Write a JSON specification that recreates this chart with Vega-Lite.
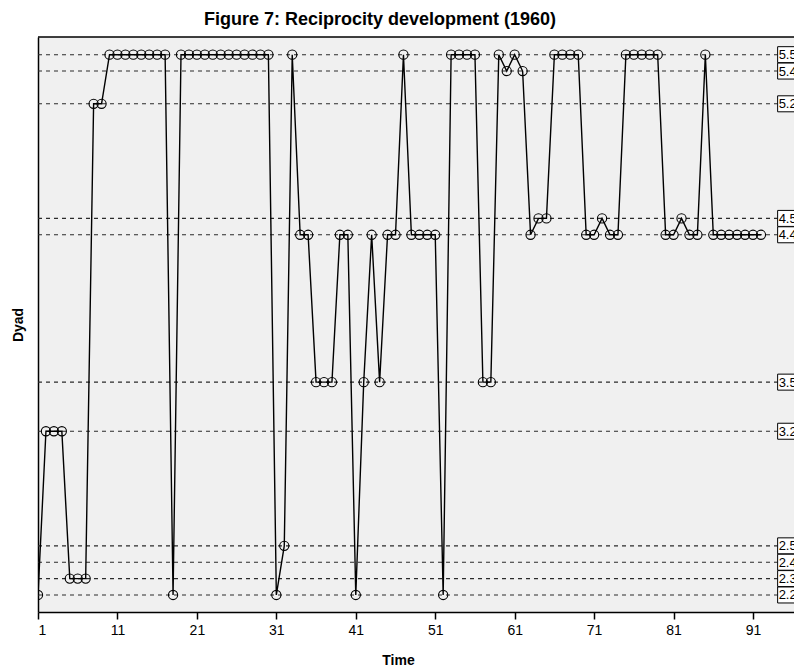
{
  "$schema": "https://vega.github.io/schema/vega-lite/v6.json",
  "width": 756,
  "height": 575,
  "autosize": {"type": "none"},
  "padding": {"left": 38, "top": 37, "right": 0, "bottom": 56},
  "background": "white",
  "config": {
    "view": {"stroke": null, "fill": "#f0f0f0"},
    "font": "Liberation Sans"
  },
  "title": {
    "text": "Figure 7: Reciprocity development (1960)",
    "fontSize": 18,
    "fontWeight": "bold",
    "font": "Liberation Sans",
    "color": "black",
    "anchor": "middle",
    "dx": -36,
    "offset": 7
  },
  "datasets": {
    "series": [
      {"t": 1, "dyad": 2.2}, {"t": 2, "dyad": 3.2}, {"t": 3, "dyad": 3.2}, {"t": 4, "dyad": 3.2},
      {"t": 5, "dyad": 2.3}, {"t": 6, "dyad": 2.3}, {"t": 7, "dyad": 2.3}, {"t": 8, "dyad": 5.2},
      {"t": 9, "dyad": 5.2}, {"t": 10, "dyad": 5.5}, {"t": 11, "dyad": 5.5}, {"t": 12, "dyad": 5.5},
      {"t": 13, "dyad": 5.5}, {"t": 14, "dyad": 5.5}, {"t": 15, "dyad": 5.5}, {"t": 16, "dyad": 5.5},
      {"t": 17, "dyad": 5.5}, {"t": 18, "dyad": 2.2}, {"t": 19, "dyad": 5.5}, {"t": 20, "dyad": 5.5},
      {"t": 21, "dyad": 5.5}, {"t": 22, "dyad": 5.5}, {"t": 23, "dyad": 5.5}, {"t": 24, "dyad": 5.5},
      {"t": 25, "dyad": 5.5}, {"t": 26, "dyad": 5.5}, {"t": 27, "dyad": 5.5}, {"t": 28, "dyad": 5.5},
      {"t": 29, "dyad": 5.5}, {"t": 30, "dyad": 5.5}, {"t": 31, "dyad": 2.2}, {"t": 32, "dyad": 2.5},
      {"t": 33, "dyad": 5.5}, {"t": 34, "dyad": 4.4}, {"t": 35, "dyad": 4.4}, {"t": 36, "dyad": 3.5},
      {"t": 37, "dyad": 3.5}, {"t": 38, "dyad": 3.5}, {"t": 39, "dyad": 4.4}, {"t": 40, "dyad": 4.4},
      {"t": 41, "dyad": 2.2}, {"t": 42, "dyad": 3.5}, {"t": 43, "dyad": 4.4}, {"t": 44, "dyad": 3.5},
      {"t": 45, "dyad": 4.4}, {"t": 46, "dyad": 4.4}, {"t": 47, "dyad": 5.5}, {"t": 48, "dyad": 4.4},
      {"t": 49, "dyad": 4.4}, {"t": 50, "dyad": 4.4}, {"t": 51, "dyad": 4.4}, {"t": 52, "dyad": 2.2},
      {"t": 53, "dyad": 5.5}, {"t": 54, "dyad": 5.5}, {"t": 55, "dyad": 5.5}, {"t": 56, "dyad": 5.5},
      {"t": 57, "dyad": 3.5}, {"t": 58, "dyad": 3.5}, {"t": 59, "dyad": 5.5}, {"t": 60, "dyad": 5.4},
      {"t": 61, "dyad": 5.5}, {"t": 62, "dyad": 5.4}, {"t": 63, "dyad": 4.4}, {"t": 64, "dyad": 4.5},
      {"t": 65, "dyad": 4.5}, {"t": 66, "dyad": 5.5}, {"t": 67, "dyad": 5.5}, {"t": 68, "dyad": 5.5},
      {"t": 69, "dyad": 5.5}, {"t": 70, "dyad": 4.4}, {"t": 71, "dyad": 4.4}, {"t": 72, "dyad": 4.5},
      {"t": 73, "dyad": 4.4}, {"t": 74, "dyad": 4.4}, {"t": 75, "dyad": 5.5}, {"t": 76, "dyad": 5.5},
      {"t": 77, "dyad": 5.5}, {"t": 78, "dyad": 5.5}, {"t": 79, "dyad": 5.5}, {"t": 80, "dyad": 4.4},
      {"t": 81, "dyad": 4.4}, {"t": 82, "dyad": 4.5}, {"t": 83, "dyad": 4.4}, {"t": 84, "dyad": 4.4},
      {"t": 85, "dyad": 5.5}, {"t": 86, "dyad": 4.4}, {"t": 87, "dyad": 4.4}, {"t": 88, "dyad": 4.4},
      {"t": 89, "dyad": 4.4}, {"t": 90, "dyad": 4.4}, {"t": 91, "dyad": 4.4}, {"t": 92, "dyad": 4.4}
    ],
    "levels": [
      {"level": 5.5, "label": "5.5"}, {"level": 5.4, "label": "5.4"}, {"level": 5.2, "label": "5.2"},
      {"level": 4.5, "label": "4.5"}, {"level": 4.4, "label": "4.4"}, {"level": 3.5, "label": "3.5"},
      {"level": 3.2, "label": "3.2"}, {"level": 2.5, "label": "2.5"}, {"level": 2.4, "label": "2.4"},
      {"level": 2.3, "label": "2.3"}, {"level": 2.2, "label": "2.2"}
    ]
  },
  "layer": [
    {
      "data": {"name": "levels"},
      "mark": {"type": "rule", "strokeDash": [4, 4], "color": "#2a2a2a", "strokeWidth": 1.1},
      "encoding": {
        "y": {"field": "level", "type": "quantitative"},
        "x": {"datum": 1, "type": "quantitative"},
        "x2": {"datum": 94.1}
      }
    },
    {
      "data": {"name": "series"},
      "mark": {"type": "line", "color": "black", "strokeWidth": 1.4, "clip": true},
      "encoding": {
        "x": {
          "field": "t", "type": "quantitative",
          "scale": {"domain": [1, 96.16], "nice": false, "zero": false},
          "axis": {
            "orient": "bottom", "values": [1, 11, 21, 31, 41, 51, 61, 71, 81, 91],
            "domain": true, "domainColor": "black", "domainWidth": 1.5,
            "ticks": true, "tickColor": "black", "tickWidth": 1.5, "tickSize": 7,
            "labelFontSize": 14, "labelColor": "black", "labelFont": "Liberation Sans", "labelPadding": 4,
            "grid": false,
            "title": "Time", "titleFontSize": 14, "titleFontWeight": "bold", "titleColor": "black",
            "titleFont": "Liberation Sans", "titlePadding": 16, "titleX": 360
          }
        },
        "y": {
          "field": "dyad", "type": "quantitative",
          "scale": {"domain": [2.096, 5.608], "nice": false, "zero": false},
          "axis": {
            "orient": "left", "domain": true, "domainColor": "black", "domainWidth": 1.5,
            "ticks": false, "labels": false, "grid": false,
            "title": "Dyad", "titleFontSize": 14, "titleFontWeight": "bold", "titleColor": "black",
            "titleFont": "Liberation Sans", "titlePadding": 13
          }
        }
      }
    },
    {
      "data": {"name": "series"},
      "mark": {"type": "point", "shape": "circle", "size": 85, "filled": false, "stroke": "black", "strokeWidth": 1.1, "opacity": 1, "clip": true},
      "encoding": {
        "x": {"field": "t", "type": "quantitative"},
        "y": {"field": "dyad", "type": "quantitative"}
      }
    },
    {
      "data": {"values": [{}]},
      "mark": {"type": "rule", "color": "black", "strokeWidth": 1.5},
      "encoding": {
        "y": {"datum": 5.608, "type": "quantitative"}
      }
    },
    {
      "data": {"name": "levels"},
      "mark": {"type": "point", "shape": "M0,-1H4V1H0Z", "size": 256, "filled": true, "fill": "white", "stroke": "black", "strokeWidth": 1, "opacity": 1},
      "encoding": {
        "x": {"datum": 94.1, "type": "quantitative"},
        "y": {"field": "level", "type": "quantitative"}
      }
    },
    {
      "data": {"name": "levels"},
      "mark": {"type": "text", "align": "left", "baseline": "middle", "fontSize": 13, "dx": 1, "dy": 0.5, "color": "black", "font": "Liberation Sans"},
      "encoding": {
        "x": {"datum": 94.1, "type": "quantitative"},
        "y": {"field": "level", "type": "quantitative"},
        "text": {"field": "label"}
      }
    }
  ]
}
